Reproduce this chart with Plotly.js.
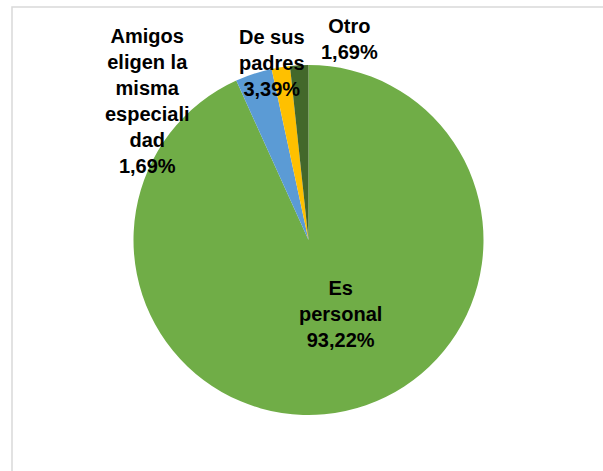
<!DOCTYPE html>
<html>
<head>
<meta charset="utf-8">
<script src="https://cdn.plot.ly/plotly-3.0.1.min.js"></script>
<style>html,body{margin:0;padding:0;background:#fff;}#chart{width:603px;height:471px;}</style>
</head>
<body>
<div id="chart"></div>
<script>
const categories = ["Es personal", "De sus padres", "Amigos eligen la misma especialidad", "Otro"];
const values = [93.22, 3.39, 1.69, 1.69];
const labelLines = [
  ["Es", "personal"],
  ["De sus", "padres"],
  ["Amigos", "eligen la", "misma", "especiali", "dad"],
  ["Otro"]
];
const colors = ["#70AD47", "#5B9BD5", "#FFC000", "#43682B"];

const W = 603, H = 471;
// label anchor positions in pixels (center of text block)
const labelPos = [[340, 314], [272, 63], [147, 101], [349, 39]];

function fmt(v) { return v.toFixed(2).replace('.', ',') + '%'; }

const annotations = categories.map((c, i) => ({
  xref: 'paper', yref: 'paper',
  x: labelPos[i][0] / W, y: 1 - labelPos[i][1] / H,
  xanchor: 'center', yanchor: 'middle', align: 'center',
  showarrow: false,
  text: labelLines[i].concat([fmt(values[i])]).join('<br>'),
  font: {family: 'Liberation Sans, Arial, sans-serif', size: 20, color: '#000000', weight: 'bold'}
}));

const data = [{
  type: 'pie',
  labels: categories,
  values: values,
  sort: false,
  direction: 'clockwise',
  rotation: 0,
  textinfo: 'none',
  hoverinfo: 'label+percent',
  marker: {colors: colors, line: {width: 0}},
  domain: {x: [133 / W, 484 / W], y: [1 - 415 / H, 1 - 65 / H]},
  showlegend: false
}];

const layout = {
  width: W, height: H,
  margin: {l: 0, r: 0, t: 0, b: 0},
  paper_bgcolor: '#ffffff',
  showlegend: false,
  annotations: annotations,
  shapes: [{
    type: 'rect', xref: 'paper', yref: 'paper',
    x0: 12 / W, y0: -0.1, x1: 1.1, y1: 1 - 7 / H,
    line: {color: '#D9D9D9', width: 1.5}, fillcolor: 'rgba(0,0,0,0)', layer: 'below'
  }]
};

Plotly.newPlot('chart', data, layout, {displayModeBar: false, staticPlot: true});
</script>
</body>
</html>
